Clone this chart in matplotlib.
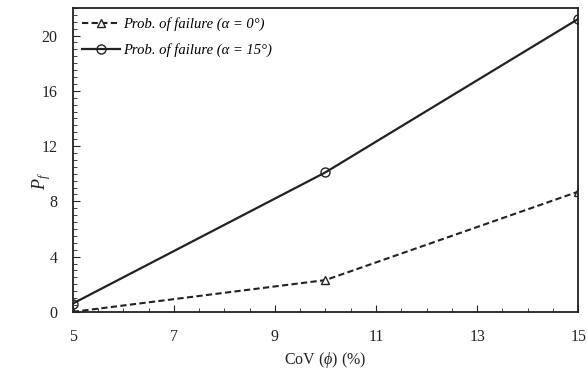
import matplotlib
matplotlib.use("Agg")
import matplotlib.pyplot as plt
from matplotlib.ticker import MultipleLocator

cov = [5, 10, 15]
pf_alpha0 = [0.0, 2.3, 8.7]
pf_alpha15 = [0.6, 10.1, 21.2]
xticks = [5, 7, 9, 11, 13, 15]
yticks = [0, 4, 8, 12, 16, 20]

plt.rcParams['font.family'] = ['Liberation Serif', 'DejaVu Serif']
plt.rcParams['mathtext.fontset'] = 'custom'
plt.rcParams['mathtext.rm'] = 'Liberation Serif'
plt.rcParams['mathtext.it'] = 'Liberation Serif:italic'
plt.rcParams['mathtext.bf'] = 'Liberation Serif:bold'

fig = plt.figure(figsize=(5.87, 3.78), dpi=100)
ax = fig.add_axes([0.124, 0.175, 0.861, 0.804])

ax.plot(cov, pf_alpha0, color='#222222', ls=(0, (3, 1.6)), lw=1.5, marker='^',
        ms=5.5, mfc='white', mec='#222222', mew=1.0,
        label='Prob. of failure (α = 0°)')
ax.plot(cov, pf_alpha15, color='#222222', ls='-', lw=1.6, marker='o',
        ms=6.5, mfc='none', mec='#222222', mew=1.0,
        label='Prob. of failure (α = 15°)')

ax.set_xlim(5, 15)
ax.set_ylim(0, 22)
ax.set_xticks(xticks)
ax.set_yticks(yticks)
ax.xaxis.set_minor_locator(MultipleLocator(0.5))
ax.yaxis.set_minor_locator(MultipleLocator(0.5))
ax.tick_params(which='both', direction='in', top=False, right=False,
               labelsize=11.5, colors='#222222')
ax.tick_params(which='major', length=5)
ax.tick_params(axis='x', which='major', pad=12)
ax.tick_params(axis='y', which='major', pad=11)
ax.tick_params(which='minor', length=3)
for s in ax.spines.values():
    s.set_linewidth(1.3)
    s.set_color('#222222')

ax.set_xlabel(r'CoV ($\phi$) (%)', fontsize=11.5, color='#222222', labelpad=4)
ax.set_ylabel(r'$P_f$', fontsize=13, color='#222222')
ax.yaxis.set_label_coords(-0.04, 0.43)

leg = ax.legend(loc='upper left', frameon=False, handlelength=2.6,
                handletextpad=0.2, borderaxespad=0.35, labelspacing=0.8,
                prop={'family': 'Liberation Serif', 'style': 'italic', 'size': 10.5},
                borderpad=0.3)

fig.savefig('out.png', dpi=100)
